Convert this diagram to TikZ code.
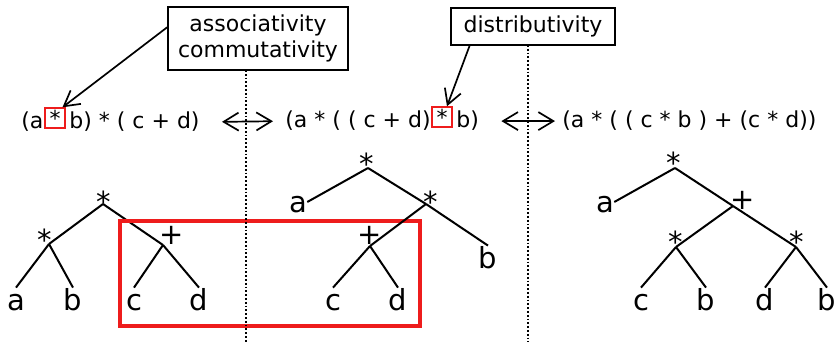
\documentclass[tikz,border=0pt]{standalone}
\usepackage{fontspec}
\setmainfont{DejaVu Sans}
\usetikzlibrary{arrows.meta, positioning}
\definecolor{MarkRed}{HTML}{EE1C1C}
\tikzset{
    % boxes naming the rewrite rule
    rule box/.style={
        rectangle,
        draw=black,
        line width=0.9pt,
        align=center,
        inner sep=0pt,
        font=\fontsize{11}{13}\selectfont
    },
    expr part/.style={
        inner sep=0pt,
        anchor=base west,
        font=\fontsize{11}{13}\selectfont
    },
    mark box/.style={
        rectangle,
        draw=MarkRed,
        line width=0.7pt,
        minimum size=10pt,
        inner sep=0pt,
        font=\fontsize{11}{13}\selectfont
    },
    % tree labels
    leaf/.style={
        inner sep=0pt,
        anchor=base,
        text height=11pt,
        text depth=0pt,
        font=\fontsize{14.5}{17}\selectfont
    },
    op/.style={
        inner sep=0pt,
        anchor=base,
        font=\fontsize{14.5}{17}\selectfont
    },
    edge/.style={
        line width=1pt,
        black
    },
    arrow style/.style={
        -{Straight Barb[length=7.5pt,width=8.5pt]},
        line width=0.85pt,
        black
    },
    biarrow style/.style={
        {Straight Barb[length=7.5pt,width=9pt]}-{Straight Barb[length=7.5pt,width=9pt]},
        line width=0.85pt,
        black
    },
    sep line/.style={
        line width=0.9pt,
        dash pattern=on 0.9pt off 1pt
    },
    scope box/.style={
        draw=MarkRed,
        line width=1.7pt
    }
}

\begin{document}
\begin{tikzpicture}[x=0.5pt, y=-0.5pt]
        \useasboundingbox (0,0) rectangle (836,342);

        % Rule boxes
        \node[rule box, minimum width=90pt, minimum height=31.5pt] (assoc) at (258,38.5) {associativity\\commutativity};
        \node[rule box, minimum width=82pt, minimum height=18.5pt] (distr) at (533,26.5) {distributivity};

        % Expressions
        \node[expr part] (e1-left) at (21,129) {(a};
        \node[mark box] (e1-star) at (55,118) {*};
        \node[expr part] (e1-right) at (69,129) {b) * ( c + d)};

        \node[expr part] (e2-left) at (285,128) {(a * ( ( c + d)};
        \node[mark box] (e2-star) at (442,117) {*};
        \node[expr part] (e2-right) at (456,128) {b)};

        \node[expr part] (e3) at (562,128) {(a * ( ( c * b ) + (c * d))};

        \draw[arrow style] (assoc.173) -- (e1-star.55);
        \draw[arrow style] (distr.197) -- (e2-star.65);

        % Tree 1
        \coordinate (t1-root) at (103,204);
        \coordinate (t1-mul) at (49,244);
        \coordinate (t1-add) at (163,245);
        \node[op] (t1-root-l) at (104,213) {*};
        \node[op] (t1-mul-l) at (45,250) {*};
        \node[op] (t1-add-l) at (172,244) {+};
        \node[leaf] (t1-a) at (16,310) {a};
        \node[leaf] (t1-b) at (73,310) {b};
        \node[leaf] (t1-c) at (134,310) {c};
        \node[leaf] (t1-d) at (199,310) {d};
        \draw[edge] (t1-root) -- (t1-mul);
        \draw[edge] (t1-root) -- (t1-add);
        \draw[edge] (t1-mul) -- (t1-a.north);
        \draw[edge] (t1-mul) -- (t1-b.north);
        \draw[edge] (t1-add) -- (t1-c.north);
        \draw[edge] (t1-add) -- (t1-d.north);

        \draw[scope box] (120,221) rectangle (420,326);

        % Tree 2
        \coordinate (t2-root) at (368,168);
        \coordinate (t2-mul) at (426,204);
        \coordinate (t2-add) at (370,246);
        \node[op] (t2-root-l) at (367,175) {*};
        \node[op] (t2-mul-l) at (431,213) {*};
        \node[op] (t2-add-l) at (370,244) {+};
        \node[leaf] (t2-a) at (298,213) {a};
        \node[leaf] (t2-b) at (488,268) {b};
        \node[leaf] (t2-c) at (333,310) {c};
        \node[leaf] (t2-d) at (398,310) {d};
        \draw[edge] (t2-root) -- (t2-a.east);
        \draw[edge] (t2-root) -- (t2-mul);
        \draw[edge] (t2-mul) -- (t2-b.north);
        \draw[edge] (t2-mul) -- (t2-add);
        \draw[edge] (t2-add) -- (t2-c.north);
        \draw[edge] (t2-add) -- (t2-d.north);

        % Tree 3
        \coordinate (t3-root) at (675,168);
        \coordinate (t3-add) at (733,206);
        \coordinate (t3-mul1) at (676,247);
        \coordinate (t3-mul2) at (796,247);
        \node[op] (t3-root-l) at (674,174) {*};
        \node[op] (t3-add-l) at (743,210) {+};
        \node[op] (t3-mul1-l) at (676,252) {*};
        \node[op] (t3-mul2-l) at (797,252) {*};
        \node[leaf] (t3-a) at (605,213) {a};
        \node[leaf] (t3-c) at (641,310) {c};
        \node[leaf] (t3-b1) at (706,310) {b};
        \node[leaf] (t3-d) at (765,310) {d};
        \node[leaf] (t3-b2) at (827,310) {b};
        \draw[edge] (t3-root) -- (t3-a.east);
        \draw[edge] (t3-root) -- (t3-add);
        \draw[edge] (t3-add) -- (t3-mul1);
        \draw[edge] (t3-add) -- (t3-mul2);
        \draw[edge] (t3-mul1) -- (t3-c.north);
        \draw[edge] (t3-mul1) -- (t3-b1.north);
        \draw[edge] (t3-mul2) -- (t3-d.north);
        \draw[edge] (t3-mul2) -- (t3-b2.north);

        % Separators
        \coordinate (sep1-top) at (246,70);
        \coordinate (sep1-bot) at (246,342);
        \coordinate (sep2-top) at (528,45);
        \coordinate (sep2-bot) at (528,342);
        \draw[sep line] (sep1-top) -- (sep1-bot);
        \draw[sep line] (sep2-top) -- (sep2-bot);

        \draw[biarrow style, shorten <=11pt, shorten >=6pt] (e1-right.east) -- (e2-left.west);
        \draw[biarrow style, shorten <=11pt, shorten >=3.5pt] (e2-right.east) -- (e3.west);
\end{tikzpicture}
\end{document}
